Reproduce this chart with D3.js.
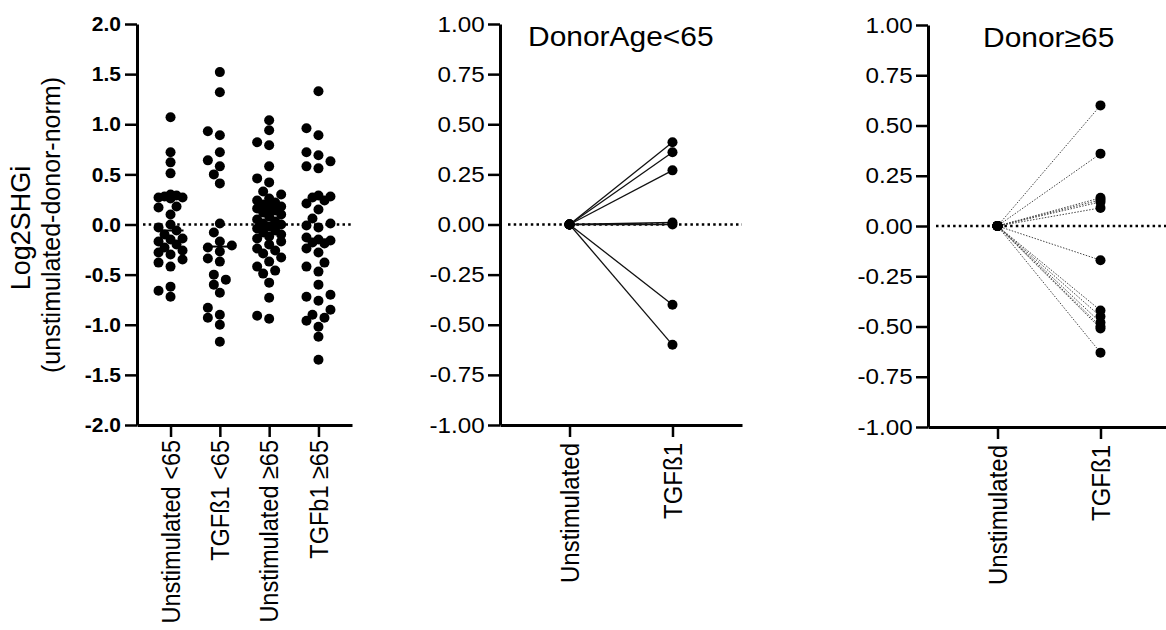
<!DOCTYPE html>
<html>
<head>
<meta charset="utf-8">
<script src="https://cdn.jsdelivr.net/npm/d3@7"></script>
<style>
  body { margin: 0; background: #fff; }
  svg { display: block; font-family: Arial, "Liberation Sans", sans-serif; }
</style>
</head>
<body>
<svg id="chart" width="1166" height="630"></svg>
<script>
// ---- data ----
var leftCats = ["Unstimulated <65", "TGFß1 <65", "Unstimulated ≥65", "TGFb1 ≥65"];
var unstimYoung = [1.07, 0.72, 0.62, 0.51, 0.30, 0.29, 0.28, 0.27, 0.27, 0.26, 0.18, 0.17, 0.10, 0.0, -0.03, -0.06,
  -0.10, -0.14, -0.15, -0.17, -0.20, -0.23, -0.26, -0.28, -0.30, -0.35, -0.38, -0.42, -0.62, -0.66, -0.72];
var tgfYoung = [1.52, 1.32, 0.93, 0.89, 0.72, 0.64, 0.58, 0.50, 0.41, 0.01, -0.08, -0.17, -0.21, -0.23, -0.27,
  -0.34, -0.37, -0.50, -0.55, -0.60, -0.68, -0.83, -0.90, -0.93, -1.00, -1.17];
var unstimOld = [1.04, 0.94, 0.82, 0.79, 0.58, 0.46, 0.42, 0.33, 0.30, 0.26, 0.24, 0.22, 0.20, 0.18, 0.17, 0.16,
  0.14, 0.12, 0.10, 0.08, 0.05, 0.03, 0.01, 0.0, -0.02, -0.04, -0.06, -0.08, -0.10, -0.12, -0.14, -0.17, -0.20,
  -0.24, -0.26, -0.29, -0.33, -0.37, -0.42, -0.46, -0.49, -0.58, -0.73, -0.91, -0.94];
var tgfOld = [1.33, 0.96, 0.89, 0.72, 0.69, 0.63, 0.58, 0.56, 0.29, 0.28, 0.27, 0.24, 0.21, 0.15, 0.06, 0.01, -0.01,
  -0.03, -0.13, -0.15, -0.16, -0.18, -0.19, -0.24, -0.28, -0.38, -0.42, -0.47, -0.60, -0.70, -0.72, -0.76, -0.85,
  -0.90, -0.93, -0.96, -1.02, -1.12, -1.35];
var leftTicks = [-2, -1.5, -1, -0.5, 0, 0.5, 1, 1.5, 2];

var pairCats = ["Unstimulated", "TGFß1"];
var pairTicks = [-1, -0.75, -0.5, -0.25, 0, 0.25, 0.5, 0.75, 1];
var youngBefore = [0, 0, 0, 0, 0, 0, 0];
var youngAfter = [0.41, 0.36, 0.27, 0.01, 0.0, -0.40, -0.60];
var oldBefore = [0, 0, 0, 0, 0, 0, 0, 0, 0, 0, 0, 0, 0];
var oldAfter = [0.60, 0.36, 0.14, 0.13, 0.12, 0.09, -0.17, -0.42, -0.45, -0.48, -0.50, -0.51, -0.63];

var svg = d3.select("#chart");
var R = 5;
var SX = 1.1; // the figure's lettering is a bit wider than plain Arial

// simple column scatter layout, like Prism's
function swarm(values, y, cx) {
  var placed = [];
  var offs = [0, -6, 6, -12, 12];
  values.slice().sort((a, b) => a - b).forEach(v => {
    var py = y(v), best = null, bestD = -1;
    for (var o of offs) {
      var d = d3.min(placed, p => Math.hypot(p.x - (cx + o), p.y - py));
      if (d === undefined) d = 99;
      if (d >= 9.5) { best = o; break; }
      if (d > bestD) { bestD = d; best = o; }
    }
    placed.push({ x: cx + best, y: py, v: v });
  });
  return placed;
}

function styleAxis(g, bold, fs, sx) {
  g.select(".domain").attr("stroke-width", 3);
  g.selectAll(".tick line").attr("stroke-width", 2.5);
  g.selectAll(".tick text")
    .attr("font-size", fs)
    .attr("font-weight", bold ? "bold" : "normal")
    .attr("fill", "#000")
    .attr("font-family", "Arial, 'Liberation Sans', sans-serif");
  if (sx) g.selectAll(".tick text").attr("transform", `scale(${sx},1)`);
}

function catLabels(x, cats, top, fs) {
  svg.append("g").selectAll("text")
    .data(cats).enter().append("text")
    .attr("transform", d => `translate(${x(d)},${top}) scale(${SX},1) rotate(-90)`)
    .attr("text-anchor", "end")
    .attr("dy", "0.36em")
    .attr("font-size", fs)
    .text(d => d);
}

// ---------- left panel ----------
var yL = d3.scaleLinear().domain([-2, 2]).range([425, 24]);
var xL = d3.scalePoint().domain(leftCats).range([137, 352]).padding(0.68);

svg.append("line")
  .attr("x1", 143).attr("x2", 352).attr("y1", yL(0)).attr("y2", yL(0))
  .attr("stroke", "#000").attr("stroke-width", 2.5).attr("stroke-dasharray", "2.5,3.2");

var groups = [unstimYoung, tgfYoung, unstimOld, tgfOld];
groups.forEach((vals, i) => {
  var cx = xL(leftCats[i]);
  var pts = swarm(vals, yL, cx);
  svg.append("g").selectAll("circle").data(pts).enter().append("circle")
    .attr("cx", d => d.x).attr("cy", d => d.y).attr("r", R).attr("fill", "#000");
  var m = d3.median(vals);
  svg.append("line")
    .attr("x1", cx - 13).attr("x2", cx + 13).attr("y1", yL(m)).attr("y2", yL(m))
    .attr("stroke", "#000").attr("stroke-width", 2);
});

var gyL = svg.append("g").attr("transform", "translate(137,0)")
  .call(d3.axisLeft(yL).tickValues(leftTicks).tickFormat(d => d.toFixed(1)).tickSize(12).tickSizeOuter(0).tickPadding(4));
styleAxis(gyL, true, 21, null);
var gxL = svg.append("g").attr("transform", "translate(0,425)")
  .call(d3.axisBottom(xL).tickSize(12).tickSizeOuter(0).tickFormat(""));
styleAxis(gxL, false, 20, null);
catLabels(xL, leftCats, 440, 23.5);

svg.append("text")
  .attr("transform", "translate(30,228) rotate(-90)")
  .attr("text-anchor", "middle").attr("font-size", 27).text("Log2SHGi");
svg.append("text")
  .attr("transform", "translate(60,225) rotate(-90)")
  .attr("text-anchor", "middle").attr("font-size", 25).text("(unstimulated-donor-norm)");

// ---------- paired panels ----------
function pairPanel(x0, y0, y1, before, after, title, titleDx, dotted) {
  var y = d3.scaleLinear().domain([-1, 1]).range([y1, y0]);
  var x = d3.scalePoint().domain(pairCats).range([x0, x0 + 242]).padding(0.675);

  svg.append("line")
    .attr("x1", x0 + 8).attr("x2", x0 + 242).attr("y1", y(0)).attr("y2", y(0))
    .attr("stroke", "#000").attr("stroke-width", 2.5).attr("stroke-dasharray", "2.5,3.2");

  var pairs = before.map((b, i) => ({ b: b, a: after[i] }));
  svg.append("g").selectAll("line").data(pairs).enter().append("line")
    .attr("x1", x(pairCats[0])).attr("y1", d => y(d.b))
    .attr("x2", x(pairCats[1])).attr("y2", d => y(d.a))
    .attr("stroke", dotted ? "#444" : "#111")
    .attr("stroke-width", dotted ? 1 : 1.3)
    .attr("stroke-dasharray", dotted ? "1.5,1.5" : null);

  var pts = [];
  pairs.forEach(d => { pts.push([x(pairCats[0]), y(d.b)]); pts.push([x(pairCats[1]), y(d.a)]); });
  svg.append("g").selectAll("circle").data(pts).enter().append("circle")
    .attr("cx", d => d[0]).attr("cy", d => d[1]).attr("r", R).attr("fill", "#000");

  var gy = svg.append("g").attr("transform", `translate(${x0},0)`)
    .call(d3.axisLeft(y).tickValues(pairTicks).tickFormat(d => d.toFixed(2)).tickSize(12).tickSizeOuter(0).tickPadding(2));
  styleAxis(gy, false, 22, SX);
  var gx = svg.append("g").attr("transform", `translate(0,${y1})`)
    .call(d3.axisBottom(x).tickSize(12).tickSizeOuter(0).tickFormat(""));
  styleAxis(gx, false, 20, null);
  catLabels(x, pairCats, y1 + 18, 24);

  svg.append("text")
    .attr("transform", `translate(${x0 + titleDx},${y0 + 22}) scale(1.07,1)`)
    .attr("font-size", 28).text(title);
  return x;
}

pairPanel(500, 24, 425, youngBefore, youngAfter, "DonorAge<65", 28, false);
pairPanel(928, 25, 427, oldBefore, oldAfter, "Donor≥65", 55, true);
</script>
</body>
</html>
